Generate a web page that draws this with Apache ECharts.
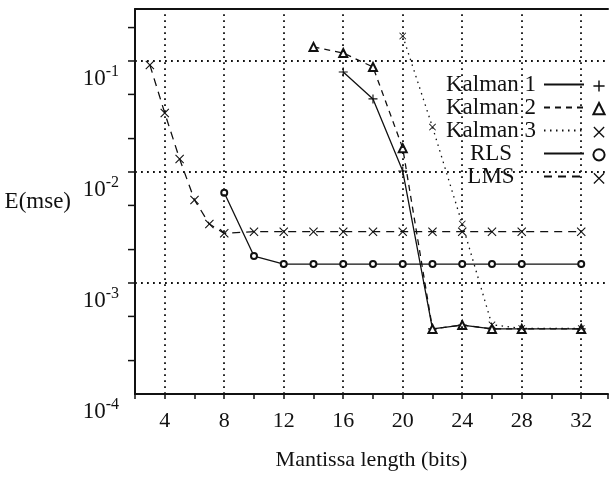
<!DOCTYPE html>
<html style="height: 100%">
<head>
    <meta charset="utf-8">
    <title>E(mse) vs mantissa length</title>
    <script src="https://cdn.jsdelivr.net/npm/echarts@6/dist/echarts.min.js"></script>
</head>
<body style="height: 100%; margin: 0; background: #fff">
<div id="chart1" style="width: 611px; height: 485px"></div>
<script type="text/javascript">
    // 数据
    var kalman1Bits = [16, 18, 20, 22, 24, 26, 28, 32];
    var kalman1Mse = [0.0796, 0.0455, 0.0102, 0.000386, 0.000418, 0.000386, 0.000386, 0.000386];

    var kalman2Bits = [14, 16, 18, 20, 22, 24, 26, 28, 32];
    var kalman2Mse = [0.134, 0.118, 0.0883, 0.0164, 0.000386, 0.000418, 0.000386, 0.000386, 0.000386];

    var kalman3Bits = [20, 22, 24, 26, 28, 32];
    var kalman3Mse = [0.168, 0.0254, 0.0034, 0.00042, 0.00039, 0.00039];

    var rlsBits = [8, 10, 12, 14, 16, 18, 20, 22, 24, 26, 28, 32];
    var rlsMse = [0.0065, 0.00175, 0.00148, 0.00148, 0.00148, 0.00148, 0.00148, 0.00148, 0.00148, 0.00148, 0.00148, 0.00148];

    var lmsBits = [3, 4, 5, 6, 7, 8, 10, 12, 14, 16, 18, 20, 22, 24, 26, 28, 32];
    var lmsMse = [0.092, 0.034, 0.0131, 0.0056, 0.0034, 0.0028, 0.0029, 0.0029, 0.0029, 0.0029, 0.0029, 0.0029, 0.0029, 0.0029, 0.0029, 0.0029, 0.0029];

    var seriesNames = ['Kalman 1', 'Kalman 2', 'Kalman 3', 'RLS', 'LMS'];
    var xGridLines = [4, 8, 12, 16, 20, 24, 28, 32];
    var yTickValues = [2e-4, 5e-4, 1e-3, 2e-3, 5e-3, 1e-2, 2e-2, 5e-2, 1e-1, 2e-1];

    var X_MIN = 2, X_MAX = 33.8, Y_MIN = 1e-4, Y_MAX = 0.294;
    var INK = '#111';
    var FONT = 'Liberation Serif';

    var PLUS = 'path://M0,4.35H10V5.65H0Z M4.35,0H5.65V10H4.35Z';
    var CROSS = 'path://M0.85,0L5,4.15L9.15,0L10,0.85L5.85,5L10,9.15L9.15,10L5,5.85L0.85,10L0,9.15L4.15,5L0,0.85Z';

    function pairs(xs, ys) {
        return xs.map(function (x, i) { return [x, ys[i]]; });
    }

    function lineSeries(name, xs, ys, dash, symbol, size) {
        var hollow = symbol.indexOf('empty') === 0;
        return {
            name: name,
            type: 'line',
            data: pairs(xs, ys),
            symbol: symbol,
            symbolSize: size,
            showAllSymbol: true,
            color: INK,
            itemStyle: {color: INK, borderColor: INK, borderWidth: hollow ? 1.1 : 0},
            lineStyle: {color: INK, width: 1.3, type: dash},
            z: 3
        };
    }

    var myChart1 = echarts.init(document.getElementById('chart1'), null, {renderer: 'canvas'});

    var rls = lineSeries('RLS', rlsBits, rlsMse, 'solid', 'emptyCircle', 6);
    // 竖的虚线网格
    rls.markLine = {
        silent: true,
        symbol: 'none',
        label: {show: false},
        lineStyle: {color: INK, width: 1.8, type: [1.8, 4.2]},
        data: xGridLines.map(function (v) { return {xAxis: v}; })
    };

    var option = {
        animation: false,
        textStyle: {fontFamily: FONT, color: INK},
        grid: {left: 135, right: 0, top: 9, bottom: 91},
        legend: [
            {
                data: seriesNames,
                orient: 'vertical',
                align: 'right',
                left: 438,
                top: 68,
                itemWidth: 40,
                itemHeight: 14,
                itemGap: 0,
                selectedMode: false,
                itemStyle: {opacity: 0},
                formatter: function (name) { return '{n|' + name + '}'; },
                textStyle: {
                    rich: {
                        n: {width: 96, align: 'center', fontSize: 23, lineHeight: 24, fontFamily: FONT, color: INK}
                    }
                }
            },
            {
                data: seriesNames,
                orient: 'vertical',
                left: 586,
                top: 74,
                itemWidth: 14,
                itemHeight: 14,
                itemGap: 10,
                selectedMode: false,
                lineStyle: {opacity: 0},
                formatter: function () { return ''; }
            }
        ],
        xAxis: [
            {
                type: 'value',
                min: X_MIN,
                max: X_MAX,
                interval: 2,
                name: 'Mantissa length (bits)',
                nameLocation: 'middle',
                nameGap: 55,
                nameTextStyle: {fontSize: 22, fontFamily: FONT, color: INK},
                axisLine: {lineStyle: {color: INK, width: 2}},
                axisTick: {length: 5, lineStyle: {color: INK, width: 1.5}},
                splitLine: {show: false},
                axisLabel: {
                    margin: 16,
                    fontSize: 22,
                    color: INK,
                    fontFamily: FONT,
                    formatter: function (v) { return v % 4 === 0 ? String(v) : ''; }
                }
            },
            {
                type: 'value',
                position: 'top',
                min: X_MIN,
                max: X_MAX,
                axisLine: {show: true, lineStyle: {color: INK, width: 2}},
                axisTick: {show: false},
                axisLabel: {show: false},
                splitLine: {show: false}
            }
        ],
        yAxis: {
            type: 'log',
            logBase: 10,
            min: Y_MIN,
            max: Y_MAX,
            name: 'E(mse)',
            nameLocation: 'middle',
            nameRotate: 0,
            nameGap: 64,
            nameTextStyle: {fontSize: 23, fontFamily: FONT, color: INK, align: 'right', verticalAlign: 'middle', padding: [0, 0, 14, 0]},
            axisLine: {show: true, lineStyle: {color: INK, width: 2}},
            axisTick: {show: false},
            splitLine: {show: true, lineStyle: {color: INK, width: 1.8, type: [1.8, 4.2]}},
            axisLabel: {
                margin: 16,
                verticalAlign: 'top',
                formatter: function (v) {
                    var e = Math.log10(v);
                    var r = Math.round(e);
                    if (Math.abs(e - r) > 1e-6) return '';
                    return '{b|10}{s|' + r + '}';
                },
                rich: {
                    b: {fontSize: 23, fontFamily: FONT, color: INK, padding: [6, 0, 0, 0]},
                    s: {fontSize: 16, fontFamily: FONT, color: INK, padding: [0, 0, 8, 0]}
                }
            }
        },
        series: [
            lineSeries('Kalman 1', kalman1Bits, kalman1Mse, 'solid', PLUS, 9),
            lineSeries('Kalman 2', kalman2Bits, kalman2Mse, [6, 5], 'emptyTriangle', 8),
            lineSeries('Kalman 3', kalman3Bits, kalman3Mse, [1.5, 4.5], CROSS, 7),
            rls,
            lineSeries('LMS', lmsBits, lmsMse, [8, 6], CROSS, 9),
            {
                // y 轴上 1,2,5 刻度
                name: 'yticks',
                type: 'custom',
                silent: true,
                clip: false,
                data: yTickValues.map(function (v) { return [X_MIN, v]; }),
                renderItem: function (params, api) {
                    var p = api.coord([api.value(0), api.value(1)]);
                    return {
                        type: 'line',
                        shape: {x1: p[0] - 7, y1: p[1], x2: p[0], y2: p[1]},
                        style: {stroke: INK, lineWidth: 1.5}
                    };
                }
            }
        ]
    };

    myChart1.setOption(option);
</script>
</body>
</html>
